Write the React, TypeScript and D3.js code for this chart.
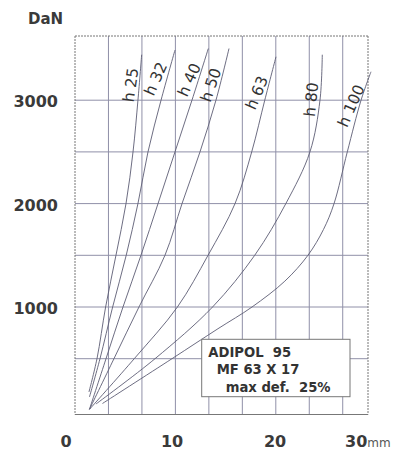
import React from 'react';
import * as d3 from 'd3';

const W = 404;
const H = 451;

// ---- data (deflection mm, load DaN) ----
const curveNames = ['h 25', 'h 32', 'h 40', 'h 50', 'h 63', 'h 80', 'h 100'];
const h25 = [[1.39, 178], [2.19, 500], [3.05, 1000], [4.08, 1500], [5.08, 2000], [5.78, 2500], [6.27, 3000], [6.64, 3440]];
const h32 = [[1.44, 130], [2.49, 500], [3.75, 1000], [5.1, 1500], [6.27, 2000], [7.27, 2500], [8.57, 3000], [9.96, 3485]];
const h40 = [[1.44, 10], [3.09, 500], [4.78, 1000], [6.57, 1500], [8.27, 2000], [9.96, 2500], [11.65, 3000], [13.28, 3500]];
const h50 = [[1.44, 10], [3.88, 500], [6.37, 1000], [8.96, 1500], [10.66, 2000], [12.45, 2500], [14.04, 3000], [15.34, 3500]];
const h63 = [[1.44, 10], [5.9, 500], [10.2, 1000], [13.25, 1500], [15.94, 2000], [17.6, 2500], [18.9, 3000], [20.02, 3420]];
const h80 = [[2.09, 62], [7.97, 500], [13.7, 1000], [17.9, 1500], [21.0, 2000], [23.4, 2500], [24.4, 3000], [24.63, 3440]];
const h100 = [[2.74, 67], [9.66, 500], [14.24, 790], [17.63, 1000], [20.9, 1250], [23.2, 1500], [24.75, 1750], [25.8, 2000], [27.12, 2500], [28.49, 3000], [29.48, 3275]];
const curves = [h25, h32, h40, h50, h63, h80, h100];

const xTicks = [0, 10, 20, 30];
const yTicks = [1000, 2000, 3000];
const xGrid = [10 / 3, 20 / 3, 10, 40 / 3, 50 / 3, 20, 70 / 3, 80 / 3];
const yGrid = [500, 1000, 1500, 2000, 2500, 3000];
const labelAnchors = [[5.58, 3147], [8.07, 3205], [11.41, 3195], [13.55, 3147], [18.13, 3070], [23.56, 3007], [27.54, 2944]];
const legendLines = ['ADIPOL  95', 'MF 63 X 17', 'max def.  25%'];

// ---- layout / style ----
const PLOT = { left: 75, right: 368, top: 36, bottom: 414.5 };
const labelAngles = [-82, -66, -66, -71, -67, -84, -66];
const xTickNudge = [-9, -3.3, -0.7, -20];
const LEG = { x: 201.7, y: 339.3, w: 148.3, h: 57.4 };
const legendIndent = [6.6, 15, 24];
const legendBase = [356.5, 374, 392];
const GRID = '#9090a8';
const CURVE = '#5c5c74';
const TEXT = '#3a3a3a';
const FONT = 'DejaVu Sans, Verdana, sans-serif';

const x = d3.scaleLinear().domain([0, 30]).range([75, 376.2]);
const y = d3.scaleLinear().domain([0, 3000]).range([410.4, 100.2]);

const line = d3
  .line<number[]>()
  .x((d) => x(d[0]))
  .y((d) => y(d[1]))
  .curve(d3.curveCatmullRom.alpha(0.5));

export default function App() {
  return (
    <svg
      width={W}
      height={H}
      style={{ position: 'absolute', left: 0, top: 0, background: '#fff' }}
      fontFamily={FONT}
    >
      <rect x={0} y={0} width={W} height={H} fill="#fff" />
      {/* grid */}
      {xGrid.map((g, i) => (
        <line key={'vx' + i} x1={x(g)} x2={x(g)} y1={PLOT.top} y2={PLOT.bottom} stroke={GRID} strokeWidth={1} />
      ))}
      {yGrid.map((g, i) => (
        <line key={'hy' + i} x1={PLOT.left} x2={PLOT.right} y1={y(g)} y2={y(g)} stroke={GRID} strokeWidth={1} />
      ))}
      {/* frame */}
      <line x1={PLOT.left} x2={PLOT.right} y1={PLOT.top} y2={PLOT.top} stroke="#777" strokeWidth={1} strokeDasharray="2 1" />
      <line x1={PLOT.left} x2={PLOT.left} y1={PLOT.top} y2={PLOT.bottom} stroke="#777" strokeWidth={1} strokeDasharray="2 1" />
      <line x1={PLOT.right} x2={PLOT.right} y1={PLOT.top} y2={PLOT.bottom} stroke="#777" strokeWidth={1} strokeDasharray="2 1" />
      <line x1={PLOT.left} x2={PLOT.right} y1={PLOT.bottom} y2={PLOT.bottom} stroke="#777" strokeWidth={1.2} />

      {/* curves */}
      {curves.map((c, i) => (
        <path key={'c' + i} d={line(c) || ''} fill="none" stroke={CURVE} strokeWidth={0.9} />
      ))}

      {/* curve labels */}
      {curveNames.map((n, i) => (
        <text
          key={'l' + i}
          transform={`translate(${x(labelAnchors[i][0])},${y(labelAnchors[i][1])}) rotate(${labelAngles[i]})`}
          textAnchor="middle"
          dominantBaseline="central"
          fontSize={15.5}
          fill="#333"
        >
          {n}
        </text>
      ))}

      {/* legend box */}
      <rect x={LEG.x} y={LEG.y} width={LEG.w} height={LEG.h} fill="#fff" stroke="#777" strokeWidth={1} />
      {legendLines.map((t, i) => (
        <text
          key={'g' + i}
          x={LEG.x + legendIndent[i]}
          y={legendBase[i]}
          fontSize={13.2}
          fontWeight="bold"
          fill="#333"
          style={{ whiteSpace: 'pre' }}
        >
          {t}
        </text>
      ))}

      {/* y axis labels */}
      <text x={28} y={23.5} fontSize={15} fontWeight="bold" fill={TEXT}>
        DaN
      </text>
      {yTicks.map((v) => (
        <text key={'yt' + v} x={58} y={y(v) + 7} textAnchor="end" fontSize={16} fontWeight="bold" fill={TEXT}>
          {v}
        </text>
      ))}

      {/* x axis labels */}
      {xTicks.map((v, i) => (
        <text
          key={'xt' + v}
          x={x(v) + xTickNudge[i]}
          y={446.7}
          textAnchor="middle"
          fontSize={16}
          fontWeight="bold"
          fill={TEXT}
        >
          {v}
        </text>
      ))}
      <text x={x(30) - 9} y={446.7} fontSize={12} fill="#555">
        mm
      </text>
    </svg>
  );
}
